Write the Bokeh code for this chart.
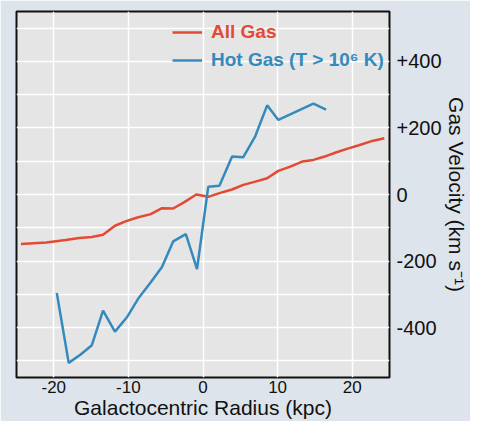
from bokeh.plotting import figure
from bokeh.models import Legend, LegendItem, FixedTicker, Range1d
from bokeh.embed import file_html
from bokeh.resources import INLINE

# ---- data ----
all_gas_r = [-24.4, -21.0, -18.4, -16.6, -14.9, -13.4, -11.8, -10.3, -8.8, -7.0,
             -5.5, -4.0, -2.5, -0.9, 0.7, 2.2, 3.9, 5.4, 6.9, 8.6,
             10.1, 11.7, 13.3, 14.8, 16.3, 17.9, 19.4, 20.9, 22.7, 24.3]
all_gas_v = [-149, -144, -137, -131, -128, -121, -94, -80, -69, -59,
             -41, -42, -23, 0, -7, 4, 15, 29, 38, 49,
             71, 84, 99, 104, 114, 127, 138, 148, 161, 169]

hot_gas_r = [-19.6, -18.0, -16.4, -14.9, -13.4, -11.8, -10.2, -8.6, -7.0, -5.5,
             -4.0, -2.3, -0.8, 0.7, 2.2, 3.9, 5.4, 7.0, 8.6, 10.1, 14.8, 16.5]
hot_gas_v = [-296, -506, -481, -453, -349, -412, -369, -310, -264, -218,
             -141, -119, -224, 23, 26, 114, 112, 175, 268, 224, 273, 255]

x_ticks = [-20, -10, 0, 10, 20]
x_tick_labels = {-20: "-20", -10: "-10", 0: "0", 10: "10", 20: "20"}
y_ticks = [-400, -200, 0, 200, 400]
y_minor = [-500, -300, -100, 100, 300, 500]
y_tick_labels = {400: "+400", 200: "+200", 0: "0", -200: "-200", -400: "-400"}

x_title = "Galactocentric Radius (kpc)"
y_title = "Gas Velocity (km s\u207b\u00b9)"

RED = "#E24A33"
BLUE = "#348ABD"
FONT = "Liberation Sans"

p = figure(width=470, height=421, output_backend="svg", toolbar_location=None,
           x_range=Range1d(-25, 25), y_range=Range1d(-550, 550),
           y_axis_location="right",
           min_border_left=16, min_border_top=11, min_border_right=10, min_border_bottom=10)

p.background_fill_color = "#E5E5E5"
p.border_fill_color = "#DEE4EC"
p.outline_line_color = "#111111"
p.outline_line_width = 2

r1 = p.line(all_gas_r, all_gas_v, line_color=RED, line_width=2.5)
r2 = p.line(hot_gas_r, hot_gas_v, line_color=BLUE, line_width=2.5)

# axes
p.xaxis.ticker = FixedTicker(ticks=x_ticks)
p.xaxis.major_label_overrides = x_tick_labels
p.yaxis.ticker = FixedTicker(ticks=y_ticks, minor_ticks=y_minor)
p.yaxis.major_label_overrides = y_tick_labels

for ax in (p.xaxis[0], p.yaxis[0]):
    ax.axis_line_color = None
    ax.major_tick_line_color = None
    ax.minor_tick_line_color = None
    ax.major_tick_out = 0
    ax.major_tick_in = 0
    ax.minor_tick_out = 0
    ax.minor_tick_in = 0
    ax.major_label_text_font = FONT
    ax.axis_label_text_font = FONT
    ax.axis_label_text_font_style = "normal"
    ax.axis_label_text_color = "#111111"
    ax.major_label_text_color = "#111111"

p.xaxis.major_label_text_font_size = "17px"
p.yaxis.major_label_text_font_size = "20px"
p.xaxis.axis_label_text_font_size = "21px"
p.yaxis.axis_label_text_font_size = "21px"
p.xaxis.major_label_standoff = 3
p.yaxis.major_label_standoff = 7
p.xaxis.axis_label_standoff = 0
p.yaxis.axis_label_standoff = 0
p.xaxis.axis_label = x_title
p.yaxis.axis_label = y_title

# grid
p.xgrid.grid_line_color = "white"
p.xgrid.grid_line_width = 1.5
p.ygrid.grid_line_color = "white"
p.ygrid.grid_line_width = 1.5
p.ygrid.minor_grid_line_color = "white"
p.ygrid.minor_grid_line_width = 1.5

# legends (one per item so each label can take its line colour)
def make_legend(label, renderer, color, loc):
    lg = Legend(items=[LegendItem(label=label, renderers=[renderer])],
                location=loc, orientation="vertical",
                background_fill_alpha=0, border_line_alpha=0,
                padding=0, margin=0, spacing=0,
                glyph_width=30, glyph_height=20, label_height=20,
                label_standoff=9,
                label_text_font=FONT, label_text_font_style="bold",
                label_text_font_size="19px", label_text_color=color)
    p.add_layout(lg, "center")

make_legend("All Gas", r1, RED, (156, 334))
make_legend("Hot Gas (T > 10\u2076 K)", r2, BLUE, (156, 306))

open("out.html", "w").write(file_html(p, INLINE))
